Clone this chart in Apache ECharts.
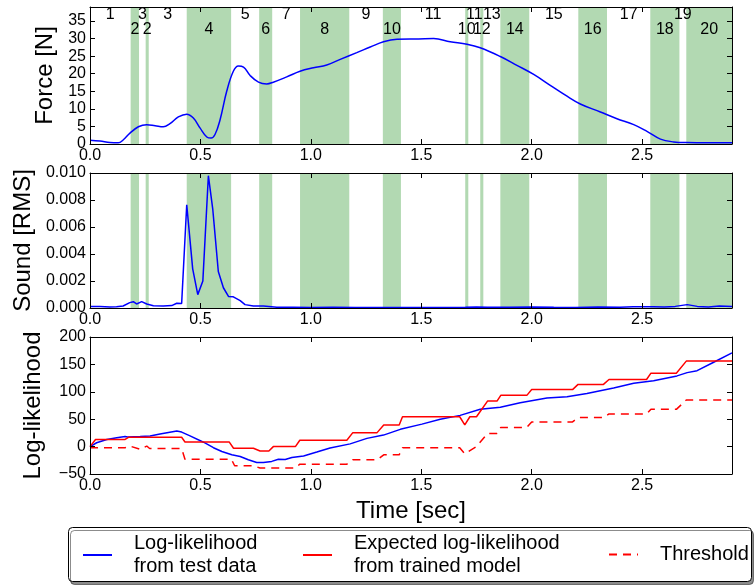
<!DOCTYPE html>
<html><head><meta charset="utf-8">
<script src="https://cdn.jsdelivr.net/npm/echarts@6/dist/echarts.min.js"></script>
<style>html,body{margin:0;padding:0;background:#fff}#c{width:754px;height:586px}</style>
</head><body><div id="c"></div><script>
// ---------- data ----------
const xMax = 2.907;
const forceT = [0,0.045,0.09,0.128,0.151,0.181,0.219,0.257,0.295,0.332,0.362,0.40,0.438,0.468,0.498,0.529,0.548,0.566,0.589,0.619,0.649,0.672,0.695,0.725,0.763,0.80,0.83,0.891,0.951,1.012,1.072,1.133,1.208,1.269,1.329,1.39,1.488,1.556,1.631,1.707,1.767,1.858,1.933,2.009,2.084,2.16,2.22,2.311,2.386,2.462,2.522,2.583,2.643,2.704,2.80,2.907];
const forceV = [1.1,0.85,0.45,0.35,1.2,3.1,4.9,5.5,5.2,4.9,5.8,7.7,8.5,7.4,4.6,2.0,1.7,2.7,6.9,15.0,20.7,22.2,21.9,19.5,17.6,17.1,17.6,19.1,20.7,21.7,22.5,24.1,26.0,27.6,29.1,29.8,29.9,30.0,29.1,28.4,27.4,24.9,22.4,19.8,16.7,13.6,11.4,9.1,7.2,5.5,3.6,1.4,0.6,0.4,0.35,0.35];
const soundT = [0,0.045,0.09,0.12,0.15,0.18,0.196,0.211,0.234,0.257,0.287,0.332,0.37,0.393,0.415,0.423,0.438,0.465,0.488,0.511,0.536,0.556,0.581,0.604,0.627,0.649,0.68,0.702,0.74,0.785,0.846,0.92,1.0,1.1,1.2,1.3,1.4,1.5,1.6,1.7,1.75,1.8,1.9,2.0,2.1,2.2,2.3,2.4,2.46,2.5,2.55,2.6,2.65,2.704,2.75,2.8,2.85,2.907];
const soundV = [0.00012,0.00012,0.00007,0.0001,0.00015,0.0004,0.00047,0.0003,0.00047,0.0003,0.00017,0.00015,0.00018,0.00035,0.00033,0.00033,0.00765,0.0029,0.00099,0.002,0.0098,0.0073,0.0027,0.0015,0.00086,0.00083,0.00055,0.00025,0.00014,0.00014,0.00005,0.00005,0.00004,0.00006,0.00004,0.00003,0.00004,0.00003,0.00003,0.00005,0.00008,0.00005,0.00005,0.00008,0.00005,0.00003,0.00007,0.00006,0.0001,0.0001,0.0001,0.00008,0.00012,0.00025,0.00012,0.00008,0.00015,0.00012];
const llTestT = [0,0.03,0.076,0.121,0.159,0.17,0.227,0.272,0.317,0.393,0.415,0.453,0.514,0.559,0.597,0.642,0.68,0.717,0.755,0.785,0.823,0.853,0.884,0.914,0.967,1.027,1.087,1.178,1.254,1.329,1.405,1.503,1.586,1.676,1.767,1.858,1.948,2.069,2.16,2.25,2.371,2.462,2.552,2.658,2.704,2.749,2.824,2.907];
const llTestV = [0,7,13,16,18.5,17.5,18.5,19.5,23,28.5,26.5,19.5,8,-2,-9,-15,-18,-24,-29,-29,-27,-23,-23.5,-20,-17,-10,-2.5,5,15,21,31.5,41,50,57,68,72,80,88.5,91,97,107,115.5,120,129,135,138.5,154,171];
const expT = [0,0.025,0.159,0.174,0.415,0.43,0.63,0.65,0.74,0.77,0.81,0.83,0.93,0.95,1.163,1.19,1.30,1.33,1.40,1.415,1.674,1.697,1.72,1.75,1.80,1.843,1.86,1.978,2.0,2.185,2.21,2.325,2.35,2.52,2.54,2.655,2.70,2.907];
const expV = [0,13,13,17,17,8.5,8.5,-3,-3,-8,-8,0,0,11.5,11.5,25.5,25.5,39.5,39.5,54.5,54.5,39.5,54.5,54.5,83,83,93.5,93.5,104,104,113.5,113.5,122.5,122.5,134,134,156,156];
const thrT = [0,0.159,0.18,0.227,0.257,0.27,0.415,0.43,0.64,0.655,0.74,0.77,0.93,0.95,1.163,1.19,1.30,1.33,1.40,1.415,1.674,1.697,1.75,1.80,1.843,1.86,1.978,2.0,2.185,2.21,2.325,2.35,2.52,2.54,2.655,2.70,2.907];
const thrV = [-2,-2,1,-5,1,-3.5,-3.5,-23,-23,-35,-35,-39,-39,-32,-32,-24,-24,-15,-15,-2,-2,-13,0,24,24,35,35,45,45,53,53,59.5,59.5,68,68,85,85];
const bandStart = [0.184,0.252,0.438,0.766,0.951,1.326,1.699,1.767,1.858,2.211,2.537,2.70];
const bandEnd   = [0.222,0.266,0.639,0.825,1.174,1.408,1.713,1.781,1.989,2.341,2.669,2.907];
const bandLabels = ['2','2','4','6','8','10','10','12','14','16','18','20'];
const gapLabels  = ['1','3','3','5','7','9','11','11','13','15','17','19'];
const seriesNames = ['Log-likelihood\nfrom test data','Expected log-likelihood\nfrom trained model','Threshold'];

// ---------- build ----------
const zip = (a,b) => a.map((t,i)=>[t,b[i]]);
const FONT = '"Liberation Sans", Arial, sans-serif';
const GREEN = 'rgba(0,128,0,0.3)';
function bandAreas(withLabels){
  const out = [];
  bandStart.forEach((s,i)=>{
    const prev = i===0 ? 0 : bandEnd[i-1];
    if (withLabels) {
      out.push([{xAxis: prev, itemStyle:{color:'rgba(0,0,0,0)'},
        label:{show:true, formatter: gapLabels[i], position:'insideTop', distance:0, fontSize:16, color:'#000', fontFamily:FONT}}, {xAxis: s}]);
    }
    out.push([{xAxis: s, itemStyle:{color:GREEN},
      label:{show:withLabels, formatter: bandLabels[i], position:'insideTop', distance:15, fontSize:16, color:'#000', fontFamily:FONT}}, {xAxis: bandEnd[i]}]);
  });
  return out;
}
const grids = [
  {left:90, right:22, top:7, height:137},
  {left:90, right:22, top:173, height:135},
  {left:90, right:22, top:337, height:137}
];
const axisLine = {show:true, onZero:false, lineStyle:{color:'#000', width:1}};
const tick = {show:true, inside:true, length:5, lineStyle:{color:'#000'}};
const xFmt = v => Math.abs(v*2 - Math.round(v*2)) < 1e-9 ? v.toFixed(1) : '';
const xAxes = [], yAxes = [];
grids.forEach((g,i)=>{
  const base = {type:'value', gridIndex:i, min:0, max:xMax, interval:0.5, splitLine:{show:false}, axisLine, axisTick:tick, z:10};
  xAxes.push(Object.assign({}, base, {position:'bottom',
    axisLabel:{show:true, formatter:xFmt, fontSize:16, color:'#000', margin:4, fontFamily:FONT, showMaxLabel:false},
    name: i===2 ? 'Time [sec]' : '', nameLocation:'middle', nameGap:25,
    nameTextStyle:{fontSize:24, color:'#000', fontFamily:FONT}}));
  xAxes.push(Object.assign({}, base, {position:'top', axisLabel:{show:false}}));
});
const yDefs = [
  {min:0, max:39, interval:5, name:'Force [N]', gap:32, fmt: v => (v%5===0 ? String(v) : '')},
  {min:0, max:0.01, interval:0.002, name:'Sound [RMS]', gap:44, fmt: v => v.toFixed(3)},
  {min:-50, max:200, interval:50, name:'Log-likelihood', gap:45, fmt: v => String(v).replace('-', '\u2212')}
];
yDefs.forEach((d,i)=>{
  const base = {type:'value', gridIndex:i, min:d.min, max:d.max, interval:d.interval, splitLine:{show:false}, axisLine, axisTick:tick, z:10};
  yAxes.push(Object.assign({}, base, {position:'left',
    axisLabel:{show:true, formatter:d.fmt, fontSize:16, color:'#000', margin:4, fontFamily:FONT},
    name:d.name, nameLocation:'middle', nameRotate:90, nameGap:d.gap,
    nameTextStyle:{fontSize:24, color:'#000', fontFamily:FONT}}));
  yAxes.push(Object.assign({}, base, {position:'right', axisLabel:{show:false}}));
});
const lineBase = {type:'line', symbol:'none', showSymbol:false, animation:false};
const series = [
  Object.assign({}, lineBase, {name:'force', xAxisIndex:0, yAxisIndex:0, data:zip(forceT,forceV), smooth:0.4,
    lineStyle:{color:'#0000ff', width:1.5}, markArea:{silent:true, data:bandAreas(true)}}),
  Object.assign({}, lineBase, {name:'sound', xAxisIndex:2, yAxisIndex:2, data:zip(soundT,soundV),
    lineStyle:{color:'#0000ff', width:1.5}, markArea:{silent:true, data:bandAreas(false)}}),
  Object.assign({}, lineBase, {name:seriesNames[0], xAxisIndex:4, yAxisIndex:4, data:zip(llTestT,llTestV),
    itemStyle:{color:'#0000ff'}, lineStyle:{color:'#0000ff', width:1.5}}),
  Object.assign({}, lineBase, {name:seriesNames[1], xAxisIndex:4, yAxisIndex:4, data:zip(expT,expV),
    itemStyle:{color:'#ff0000'}, lineStyle:{color:'#ff0000', width:1.5}}),
  Object.assign({}, lineBase, {name:seriesNames[2], xAxisIndex:4, yAxisIndex:4, data:zip(thrT,thrV),
    itemStyle:{color:'#ff0000'}, lineStyle:{color:'#ff0000', width:1.5, type:[8,6]}})
];
const legendBase = {orient:'horizontal', padding:0, itemWidth:29, itemHeight:10, z:20, selectedMode:false,
  itemStyle:{opacity:0, borderWidth:0},
  textStyle:{fontSize:20, lineHeight:23, color:'#000', fontFamily:FONT, padding:[0,0,0,17]}};
const legends = [
  Object.assign({}, legendBase, {left:82, top:532, data:[seriesNames[0]]}),
  Object.assign({}, legendBase, {left:302, top:532, data:[seriesNames[1]]}),
  Object.assign({}, legendBase, {left:608, top:543, data:[seriesNames[2]]})
];
const chart = echarts.init(document.getElementById('c'), null, {renderer:'canvas'});
chart.setOption({
  animation:false,
  backgroundColor:'#fff',
  textStyle:{fontFamily:FONT},
  grid:grids,
  xAxis:xAxes,
  yAxis:yAxes,
  legend:legends,
  graphic:[{type:'rect', left:68, top:527, z:1, silent:true,
    shape:{width:683, height:54, r:4},
    style:{fill:'#fff', stroke:'#000', lineWidth:1, shadowColor:'rgba(0,0,0,0.45)', shadowOffsetX:2, shadowOffsetY:3, shadowBlur:0}}],
  series
});
</script></body></html>
